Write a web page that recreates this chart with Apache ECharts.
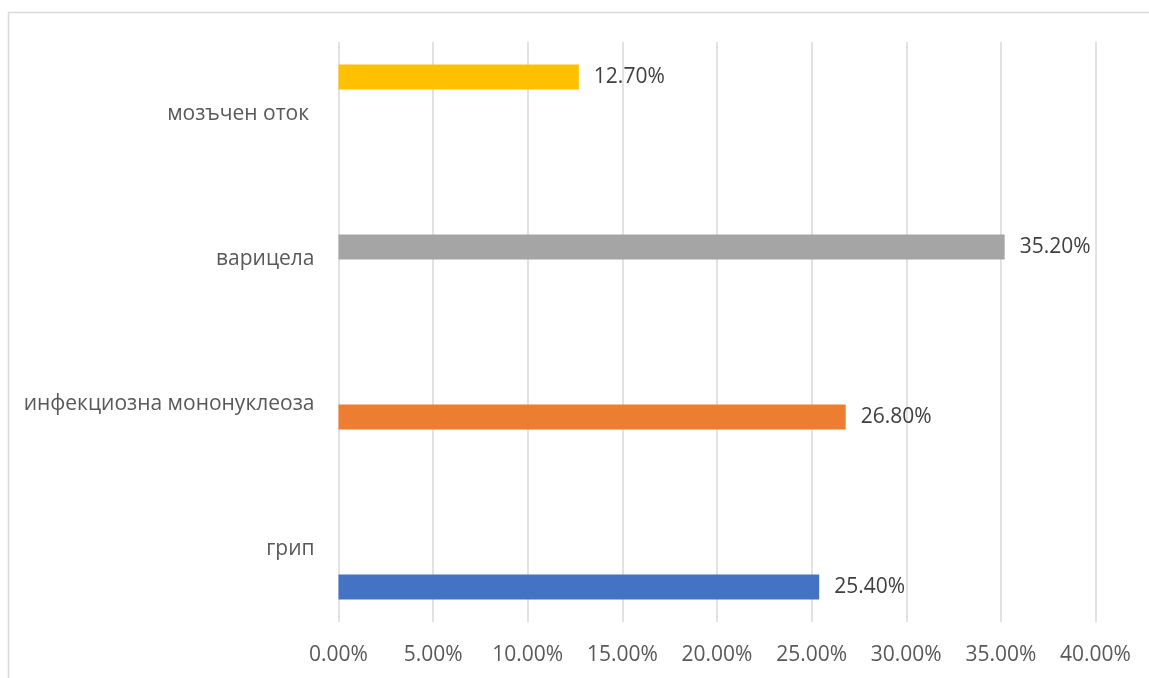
<!DOCTYPE html>
<html>
<head>
<meta charset="utf-8">
<script src="https://cdn.jsdelivr.net/npm/echarts@6/dist/echarts.min.js"></script>
<style>
  html, body { margin: 0; padding: 0; background: #fff; }
  #chart { width: 1149px; height: 678px; }
</style>
</head>
<body>
<div id="chart"></div>
<script>
// Categories listed bottom to top, as the value axis stacks them
const categories = ['грип', 'инфекциозна мононуклеоза', 'варицела', 'мозъчен оток '];
// Share of cases, in percent
const values = [25.4, 26.8, 35.2, 12.7];
const colors = ['#4472C4', '#ED7D31', '#A5A5A5', '#FFC000'];
const xTicks = [0, 5, 10, 15, 20, 25, 30, 35, 40];

const FONT = '"Open Sans", "Noto Sans", sans-serif';
const FONT_SIZE = 21;

// One series per category, so each bar keeps its own slot inside the group.
// ECharts puts the first series at the top of a group, so the list is built
// from the last category down: the first category's bar sits lowest.
const series = categories.map((name, i) => ({
  name: name,
  type: 'bar',
  barWidth: 25,
  barGap: '0%',
  itemStyle: { color: colors[i] },
  label: {
    show: true,
    position: 'right',
    distance: 15,
    color: '#404040',
    fontFamily: FONT,
    fontSize: FONT_SIZE,
    formatter: p => p.value.toFixed(2) + '%'
  },
  data: categories.map((c, j) => (j === i ? values[i] : null))
})).reverse();

const chart = echarts.init(document.getElementById('chart'));
chart.setOption({
  animation: false,
  backgroundColor: '#fff',
  graphic: [{
    type: 'rect',
    shape: { x: 8.5, y: 12.5, width: 1300, height: 800 },
    style: { fill: 'none', stroke: '#d9d9d9', lineWidth: 1.5 },
    silent: true
  }],
  grid: { left: 338.5, right: 53.5, top: 42, bottom: 56, containLabel: false },
  xAxis: {
    type: 'value',
    min: xTicks[0],
    max: xTicks[xTicks.length - 1],
    interval: xTicks[1] - xTicks[0],
    axisLine: { show: false },
    axisTick: { show: false },
    splitLine: { show: true, lineStyle: { color: '#d9d9d9', width: 1.5 } },
    axisLabel: {
      color: '#595959',
      fontFamily: FONT,
      fontSize: FONT_SIZE,
      margin: 23,
      formatter: v => v.toFixed(2) + '%'
    }
  },
  yAxis: {
    type: 'category',
    data: categories,
    axisLine: { show: false },
    axisTick: { show: false },
    splitLine: { show: false },
    axisLabel: {
      color: '#595959',
      fontFamily: FONT,
      fontSize: FONT_SIZE,
      margin: 24
    }
  },
  series: series
});
</script>
</body>
</html>
